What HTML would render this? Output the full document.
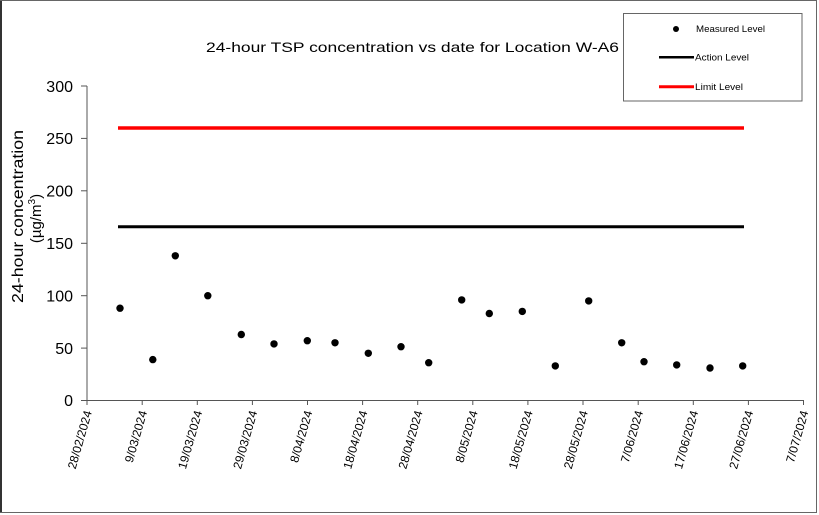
<!DOCTYPE html>
<html><head><meta charset="utf-8"><style>
html,body{margin:0;padding:0;background:#fff;}
svg{display:block;}
text{font-family:"Liberation Sans",Arial,sans-serif;fill:#000;}
</style></head><body>
<svg width="819" height="515" viewBox="0 0 819 515" xmlns="http://www.w3.org/2000/svg">
<rect x="0" y="0" width="819" height="515" fill="#fff"/>
<!-- outer frame -->
<line x1="1" y1="0" x2="1" y2="513" stroke="#333" stroke-width="2"/>
<line x1="0" y1="0.5" x2="817" y2="0.5" stroke="#666" stroke-width="1"/>
<line x1="816.5" y1="0" x2="816.5" y2="513" stroke="#666" stroke-width="1"/>
<line x1="0" y1="512.5" x2="817" y2="512.5" stroke="#666" stroke-width="1"/>

<!-- title -->
<text x="206" y="52" font-size="14" textLength="413" lengthAdjust="spacingAndGlyphs">24-hour TSP concentration vs date for Location W-A6</text>

<!-- legend -->
<rect x="623.5" y="13.5" width="178.5" height="87.5" fill="#fff" stroke="#666" stroke-width="1"/>
<circle cx="676" cy="29" r="3" fill="#000"/>
<text x="696" y="32" font-size="9" textLength="69" lengthAdjust="spacingAndGlyphs">Measured Level</text>
<line x1="659" y1="57.3" x2="694" y2="57.3" stroke="#000" stroke-width="2.5"/>
<text x="695" y="60.5" font-size="9" textLength="54" lengthAdjust="spacingAndGlyphs">Action Level</text>
<line x1="659" y1="86.7" x2="694" y2="86.7" stroke="#f00" stroke-width="3"/>
<text x="695" y="90" font-size="9" textLength="48" lengthAdjust="spacingAndGlyphs">Limit Level</text>

<!-- y axis -->
<line x1="87" y1="86" x2="87" y2="401" stroke="#555" stroke-width="1"/>
<g stroke="#555" stroke-width="1">
<line x1="81" y1="86" x2="87" y2="86"/>
<line x1="81" y1="138.4" x2="87" y2="138.4"/>
<line x1="81" y1="190.8" x2="87" y2="190.8"/>
<line x1="81" y1="243.3" x2="87" y2="243.3"/>
<line x1="81" y1="295.7" x2="87" y2="295.7"/>
<line x1="81" y1="348.1" x2="87" y2="348.1"/>
<line x1="81" y1="400.5" x2="87" y2="400.5"/>
</g>
<g font-size="16" text-anchor="end">
<text x="73" y="92">300</text>
<text x="73" y="144">250</text>
<text x="73" y="196.5">200</text>
<text x="73" y="249">150</text>
<text x="73" y="301.5">100</text>
<text x="73" y="354">50</text>
<text x="73" y="406">0</text>
</g>
<text transform="translate(23,216.5) rotate(-90)" font-size="16" text-anchor="middle" textLength="173" lengthAdjust="spacingAndGlyphs">24-hour concentration</text>
<text transform="translate(41,218.5) rotate(-90)" font-size="15" text-anchor="middle">(µg/m<tspan font-size="10" dy="-6">3</tspan><tspan dy="6">)</tspan></text>

<!-- x axis -->
<line x1="87" y1="400.5" x2="804" y2="400.5" stroke="#555" stroke-width="1"/>
<g stroke="#555" stroke-width="1">
<line x1="87" y1="400" x2="87" y2="405"/>
<line x1="142.2" y1="400" x2="142.2" y2="405"/>
<line x1="197.3" y1="400" x2="197.3" y2="405"/>
<line x1="252.4" y1="400" x2="252.4" y2="405"/>
<line x1="307.5" y1="400" x2="307.5" y2="405"/>
<line x1="362.6" y1="400" x2="362.6" y2="405"/>
<line x1="417.7" y1="400" x2="417.7" y2="405"/>
<line x1="472.8" y1="400" x2="472.8" y2="405"/>
<line x1="527.9" y1="400" x2="527.9" y2="405"/>
<line x1="583" y1="400" x2="583" y2="405"/>
<line x1="638.2" y1="400" x2="638.2" y2="405"/>
<line x1="693.3" y1="400" x2="693.3" y2="405"/>
<line x1="803.5" y1="400" x2="803.5" y2="405"/>
<line x1="748.4" y1="400" x2="748.4" y2="405"/>
</g>
<g font-size="12" text-anchor="end">
<text transform="translate(92,412) rotate(-74)">28/02/2024</text>
<text transform="translate(147.2,412) rotate(-74)">9/03/2024</text>
<text transform="translate(202.3,412) rotate(-74)">19/03/2024</text>
<text transform="translate(257.4,412) rotate(-74)">29/03/2024</text>
<text transform="translate(312.5,412) rotate(-74)">8/04/2024</text>
<text transform="translate(367.6,412) rotate(-74)">18/04/2024</text>
<text transform="translate(422.7,412) rotate(-74)">28/04/2024</text>
<text transform="translate(477.8,412) rotate(-74)">8/05/2024</text>
<text transform="translate(532.9,412) rotate(-74)">18/05/2024</text>
<text transform="translate(588,412) rotate(-74)">28/05/2024</text>
<text transform="translate(643.2,412) rotate(-74)">7/06/2024</text>
<text transform="translate(698.3,412) rotate(-74)">17/06/2024</text>
<text transform="translate(753.4,412) rotate(-74)">27/06/2024</text>
<text transform="translate(808.5,412) rotate(-74)">7/07/2024</text>
</g>

<!-- limit / action lines -->
<line x1="118" y1="128" x2="744" y2="128" stroke="#f00" stroke-width="3.5"/>
<line x1="118" y1="226.7" x2="744" y2="226.7" stroke="#000" stroke-width="3"/>

<!-- data -->
<g fill="#000">
<circle cx="120" cy="308.2" r="3.7"/>
<circle cx="152.8" cy="359.6" r="3.7"/>
<circle cx="175.3" cy="255.8" r="3.7"/>
<circle cx="207.8" cy="295.7" r="3.7"/>
<circle cx="241.3" cy="334.5" r="3.7"/>
<circle cx="274" cy="343.9" r="3.7"/>
<circle cx="307.3" cy="340.7" r="3.7"/>
<circle cx="335" cy="342.8" r="3.7"/>
<circle cx="368.3" cy="353.3" r="3.7"/>
<circle cx="401" cy="346.7" r="3.7"/>
<circle cx="428.7" cy="362.7" r="3.7"/>
<circle cx="461.7" cy="299.9" r="3.7"/>
<circle cx="489.3" cy="313.5" r="3.7"/>
<circle cx="522.3" cy="311.4" r="3.7"/>
<circle cx="555.3" cy="365.9" r="3.7"/>
<circle cx="588.7" cy="300.9" r="3.7"/>
<circle cx="621.7" cy="342.8" r="3.7"/>
<circle cx="644" cy="361.7" r="3.7"/>
<circle cx="676.7" cy="364.9" r="3.7"/>
<circle cx="710" cy="368" r="3.7"/>
<circle cx="742.7" cy="365.9" r="3.7"/>
</g>
</svg>
</body></html>
